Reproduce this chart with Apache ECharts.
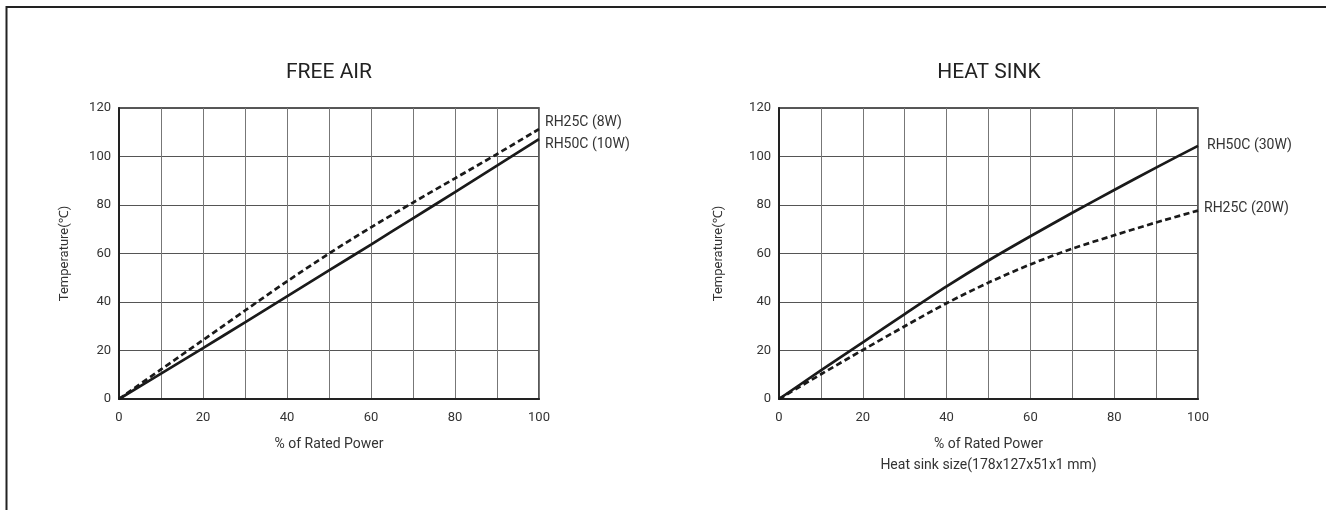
<!DOCTYPE html>
<html>
<head>
<meta charset="utf-8">
<script src="https://cdn.jsdelivr.net/npm/echarts@6/dist/echarts.min.js"></script>
<style>
  html, body { margin: 0; padding: 0; background: #fff; }
  #chart { width: 1326px; height: 510px; }
</style>
</head>
<body>
<div id="chart"></div>
<script>
// % of rated power
var powerPct = [0, 10, 20, 30, 40, 50, 60, 70, 80, 90, 100];
// free air
var freeAirRH25C = [0, 12.2, 24.3, 36.5, 48.5, 60, 70.8, 81, 91, 101, 111.3];
var freeAirRH50C = [0, 10.5, 21, 31.6, 42.3, 53, 63.7, 74.5, 85.3, 96.2, 107.2];
// heat sink
var heatSinkRH50C = [0, 11.8, 23.4, 35, 46.4, 57.1, 67.1, 76.8, 86.2, 95.4, 104.4];
var heatSinkRH25C = [0, 10.2, 20.2, 30, 39.5, 48, 55.5, 62, 67.5, 72.8, 77.7];

var FONT = 'Roboto, "Noto Sans", sans-serif';

function pairs(ys) {
    return powerPct.map(function (x, i) { return [x, ys[i]]; });
}

function xAxisOf(idx, name) {
    return {
        gridIndex: idx, type: 'value', min: 0, max: 100, interval: 10,
        name: name, nameLocation: 'middle', nameGap: 35,
        nameTextStyle: { fontFamily: FONT, fontSize: 14, color: '#333', lineHeight: 21 },
        axisLine: { lineStyle: { color: '#222', width: 2 } },
        axisTick: { show: false },
        axisLabel: {
            margin: 12, fontFamily: FONT, fontSize: 13, color: '#333',
            formatter: function (v) { return v % 20 === 0 ? v : ''; }
        },
        splitLine: { show: true, lineStyle: { color: '#777', width: 1 } }
    };
}

function yAxisOf(idx, gap) {
    return {
        gridIndex: idx, type: 'value', min: 0, max: 120, interval: 20,
        name: 'Temperature(℃)', nameLocation: 'middle', nameGap: gap,
        nameTextStyle: { fontFamily: FONT, fontSize: 13, color: '#333' },
        axisLine: { show: true, lineStyle: { color: '#222', width: 2 } },
        axisTick: { show: false },
        axisLabel: { margin: 8, fontFamily: FONT, fontSize: 13, color: '#333' },
        splitLine: { show: true, lineStyle: { color: '#555', width: 1 } }
    };
}

function lineOf(idx, name, ys, dashed, offset, dist) {
    return {
        name: name, type: 'line', xAxisIndex: idx, yAxisIndex: idx,
        data: pairs(ys), smooth: 0.3, showSymbol: false, silent: true,
        lineStyle: { color: '#1a1a1a', width: 2.7, type: dashed ? [6, 3.5] : 'solid' },
        endLabel: {
            show: true, formatter: name, distance: dist, offset: offset,
            fontFamily: FONT, fontSize: 14, color: '#333'
        }
    };
}

var chart = echarts.init(document.getElementById('chart'));
chart.setOption({
    animation: false,
    grid: [
        { left: 119, top: 108, width: 420, height: 291, show: true, borderColor: '#222', borderWidth: 1.5 },
        { left: 779, top: 108, width: 419, height: 291, show: true, borderColor: '#222', borderWidth: 1.5 }
    ],
    xAxis: [
        xAxisOf(0, '% of Rated Power'),
        xAxisOf(1, '% of Rated Power\nHeat sink size(178x127x51x1 mm)')
    ],
    yAxis: [yAxisOf(0, 48), yAxisOf(1, 54)],
    series: [
        lineOf(0, 'RH25C (8W)', freeAirRH25C, true, [0, -7], 6),
        lineOf(0, 'RH50C (10W)', freeAirRH50C, false, [0, 5], 6),
        lineOf(1, 'RH50C (30W)', heatSinkRH50C, false, [0, 0], 9),
        lineOf(1, 'RH25C (20W)', heatSinkRH25C, true, [0, -2], 6)
    ],
    graphic: [
        { type: 'line', shape: { x1: 6.5, y1: 6, x2: 6.5, y2: 510 }, style: { stroke: '#222', lineWidth: 2 } },
        { type: 'line', shape: { x1: 6, y1: 7, x2: 1326, y2: 7 }, style: { stroke: '#222', lineWidth: 2 } },
        { type: 'text', x: 329, y: 73, style: { text: 'FREE AIR', fontFamily: FONT, fontSize: 21, fill: '#222', textAlign: 'center', textVerticalAlign: 'middle' } },
        { type: 'text', x: 989, y: 73, style: { text: 'HEAT SINK', fontFamily: FONT, fontSize: 21, fill: '#222', textAlign: 'center', textVerticalAlign: 'middle' } }
    ]
});
</script>
</body>
</html>
